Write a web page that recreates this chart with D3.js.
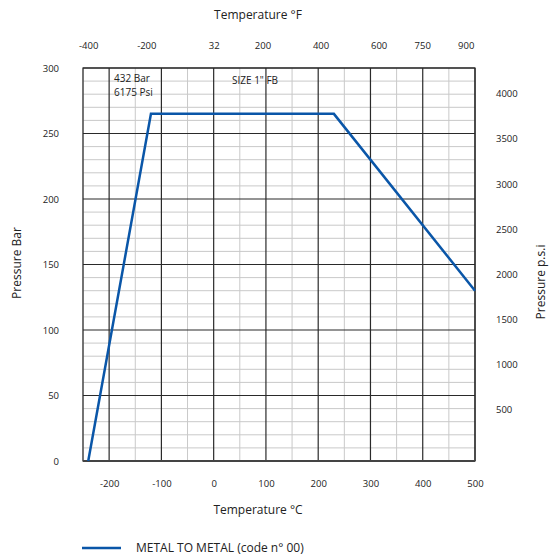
<!DOCTYPE html>
<html>
<head>
<meta charset="utf-8">
<script src="https://cdn.jsdelivr.net/npm/d3@7"></script>
<style>
  body { margin: 0; background: #fff; }
  svg text { font-family: "Open Sans", sans-serif; fill: #222; }
</style>
</head>
<body>
<div id="chart"></div>
<script>
// curve: temperature (°C) vs pressure (bar)
const tempC = [-240, -120, 230, 500];
const pressureBar = [0, 265, 265, 130];

const celsiusTicks = [-200, -100, 0, 100, 200, 300, 400, 500];
const fahrenheitTicks = [-400, -200, 32, 200, 400, 600, 750, 900];
const barTicks = [0, 50, 100, 150, 200, 250, 300];
const psiTicks = [500, 1000, 1500, 2000, 2500, 3000, 3500, 4000];

const seriesName = 'METAL TO METAL (code n° 00)';
const notes = ['432 Bar', '6175 Psi'];
const sizeNote = 'SIZE 1" FB';

const width = 550;
const height = 559;
const margin = { top: 68, right: 75, bottom: 98, left: 83 };
const w = width - margin.left - margin.right;
const h = height - margin.top - margin.bottom;

const toF = c => c * 9 / 5 + 32;
const PSI_PER_BAR = 14.5038;
const plain = d => String(d); // keep hyphen minus like the original

const x = d3.scaleLinear().domain([-250, 500]).range([0, w]);
const xF = d3.scaleLinear().domain([toF(-250), toF(500)]).range([0, w]);
const y = d3.scaleLinear().domain([0, 300]).range([h, 0]);
const yPsi = d3.scaleLinear().domain([0, 300 * PSI_PER_BAR]).range([h, 0]);

const svg = d3.select('#chart')
  .append('svg')
  .attr('width', width)
  .attr('height', height);

const g = svg.append('g')
  .attr('transform', `translate(${margin.left}, ${margin.top})`);

// grid
const minorX = d3.range(-250, 501, 50).filter(v => v % 100 !== 0);
const majorX = d3.range(-200, 501, 100);
const minorY = d3.range(0, 301, 10).filter(v => v % 50 !== 0);
const majorY = d3.range(0, 301, 50);

g.append('g')
  .selectAll('line')
  .data(minorY)
  .join('line')
  .attr('x1', 0).attr('x2', w)
  .attr('y1', d => y(d)).attr('y2', d => y(d))
  .attr('stroke', '#c9c9c9').attr('stroke-width', 1);

g.append('g')
  .selectAll('line')
  .data(minorX)
  .join('line')
  .attr('x1', d => x(d)).attr('x2', d => x(d))
  .attr('y1', 0).attr('y2', h)
  .attr('stroke', '#c9c9c9').attr('stroke-width', 1);

g.append('g')
  .selectAll('line')
  .data(majorY)
  .join('line')
  .attr('x1', 0).attr('x2', w)
  .attr('y1', d => y(d)).attr('y2', d => y(d))
  .attr('stroke', '#2a2a2a').attr('stroke-width', 1.2);

g.append('g')
  .selectAll('line')
  .data(majorX)
  .join('line')
  .attr('x1', d => x(d)).attr('x2', d => x(d))
  .attr('y1', 0).attr('y2', h)
  .attr('stroke', '#2a2a2a').attr('stroke-width', 1.2);

g.append('rect')
  .attr('width', w).attr('height', h)
  .attr('fill', 'none')
  .attr('stroke', '#2a2a2a').attr('stroke-width', 1.2);

g.append('line')
  .attr('x1', 0).attr('x2', w)
  .attr('y1', h).attr('y2', h)
  .attr('stroke', '#444').attr('stroke-width', 2);

// axes
const styleAxis = sel => {
  sel.select('.domain').remove();
  sel.selectAll('text').style('font-size', '9.5px').attr('fill', '#222');
};

g.append('g')
  .attr('transform', `translate(0, ${h})`)
  .call(d3.axisBottom(x).tickValues(celsiusTicks).tickFormat(plain).tickSize(0).tickPadding(19))
  .call(styleAxis);

g.append('g')
  .call(d3.axisTop(xF).tickValues(fahrenheitTicks).tickFormat(plain).tickSize(0).tickPadding(19))
  .call(styleAxis);

g.append('g')
  .call(d3.axisLeft(y).tickValues(barTicks).tickFormat(plain).tickSize(0).tickPadding(24))
  .call(styleAxis);

g.append('g')
  .attr('transform', `translate(${w}, -6)`)
  .call(d3.axisRight(yPsi).tickValues(psiTicks).tickFormat(plain).tickSize(0).tickPadding(21))
  .call(styleAxis);

// titles
svg.append('text')
  .attr('x', 258).attr('y', 15).attr('dy', '0.35em')
  .attr('text-anchor', 'middle').style('font-size', '12px')
  .text('Temperature °F');

svg.append('text')
  .attr('x', 258).attr('y', 510).attr('dy', '0.35em')
  .attr('text-anchor', 'middle').style('font-size', '12px')
  .text('Temperature °C');

svg.append('text')
  .attr('transform', 'translate(17, 263) rotate(-90)')
  .attr('dy', '0.35em')
  .attr('text-anchor', 'middle').style('font-size', '12px')
  .text('Pressure Bar');

svg.append('text')
  .attr('transform', 'translate(541, 282) rotate(-90)')
  .attr('dy', '0.35em')
  .attr('text-anchor', 'middle').style('font-size', '12px')
  .text('Pressure p.s.i');

// notes
g.append('g')
  .selectAll('text')
  .data(notes)
  .join('text')
  .attr('x', 31)
  .attr('y', (d, i) => 10 + i * 14.5)
  .attr('dy', '0.35em')
  .style('font-size', '10px')
  .text(d => d);

g.append('text')
  .attr('x', 149).attr('y', 12).attr('dy', '0.35em')
  .style('font-size', '10px')
  .text(sizeNote);

// curve
const points = tempC.map((t, i) => ({ t, p: pressureBar[i] }));
const line = d3.line().x(d => x(d.t)).y(d => y(d.p));

g.append('path')
  .datum(points)
  .attr('d', line)
  .attr('fill', 'none')
  .attr('stroke', '#0a56a8')
  .attr('stroke-width', 2.5)
  .attr('stroke-linejoin', 'miter');

// legend
const legend = svg.append('g').attr('transform', 'translate(82, 548)');
legend.append('line')
  .attr('x1', 0).attr('x2', 39)
  .attr('stroke', '#0a56a8').attr('stroke-width', 2.5);
legend.append('text')
  .attr('x', 54).attr('dy', '0.35em')
  .style('font-size', '12px')
  .text(seriesName);
</script>
</body>
</html>
